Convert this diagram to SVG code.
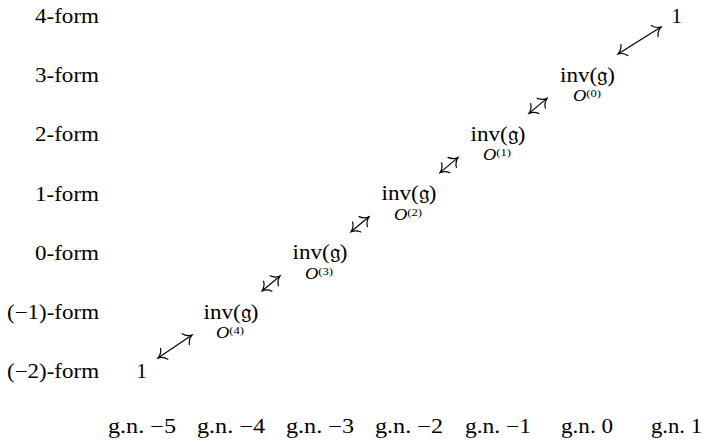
<svg xmlns="http://www.w3.org/2000/svg" width="708" height="447" viewBox="0 0 708 447">
<style>
text{font-family:"Liberation Serif",serif;fill:#000}
.lbl{font-size:20.5px}
.row{text-anchor:end}
.mid{text-anchor:middle}
.o{font-size:16px;font-style:italic}
.sup{font-size:11px;font-style:normal}
.arr{stroke:#000;stroke-width:1.2;fill:none;marker-start:url(#tip);marker-end:url(#tip)}
</style>
<defs>
<marker id="tip" markerUnits="userSpaceOnUse" markerWidth="20" markerHeight="20" viewBox="-10 -10 20 20" refX="0" refY="0" orient="auto-start-reverse" overflow="visible">
<path d="M-7.5,-6.5 C-5.8,-2.8 -2,-0.6 0,0 C-2,0.6 -5.8,2.8 -7.5,6.5" fill="none" stroke="#000" stroke-width="1.2" stroke-linecap="round"/>
</marker>
</defs>
<g id="row-labels">
<text class="lbl row" x="99" y="23" textLength="64" lengthAdjust="spacingAndGlyphs">4-form</text>
<text class="lbl row" x="99" y="82.2" textLength="64" lengthAdjust="spacingAndGlyphs">3-form</text>
<text class="lbl row" x="99" y="141.4" textLength="64" lengthAdjust="spacingAndGlyphs">2-form</text>
<text class="lbl row" x="99" y="200.6" textLength="64" lengthAdjust="spacingAndGlyphs">1-form</text>
<text class="lbl row" x="99" y="259.8" textLength="64" lengthAdjust="spacingAndGlyphs">0-form</text>
<text class="lbl row" x="99" y="319" textLength="92" lengthAdjust="spacingAndGlyphs">(−1)-form</text>
<text class="lbl row" x="99" y="378.2" textLength="92" lengthAdjust="spacingAndGlyphs">(−2)-form</text>
</g>
<g id="col-labels">
<text class="lbl mid" x="142" y="433" textLength="68" lengthAdjust="spacingAndGlyphs">g.n. −5</text>
<text class="lbl mid" x="231" y="433" textLength="68" lengthAdjust="spacingAndGlyphs">g.n. −4</text>
<text class="lbl mid" x="320" y="433" textLength="68" lengthAdjust="spacingAndGlyphs">g.n. −3</text>
<text class="lbl mid" x="409" y="433" textLength="68" lengthAdjust="spacingAndGlyphs">g.n. −2</text>
<text class="lbl mid" x="498" y="433" textLength="66" lengthAdjust="spacingAndGlyphs">g.n. −1</text>
<text class="lbl mid" x="587" y="433" textLength="52" lengthAdjust="spacingAndGlyphs">g.n. 0</text>
<text class="lbl mid" x="676.5" y="433" textLength="51" lengthAdjust="spacingAndGlyphs">g.n. 1</text>
</g>
<g id="node-one-bottom"><text class="lbl mid" x="141.5" y="378.2">1</text></g>
<g id="node-inv-4">
<text class="lbl mid" x="231" y="318.5" textLength="55" lengthAdjust="spacingAndGlyphs">inv(𝔤)</text>
<text class="o mid" x="230" y="338" textLength="28" lengthAdjust="spacingAndGlyphs">O<tspan class="sup" dy="-4">(4)</tspan></text>
</g>
<g id="node-inv-3">
<text class="lbl mid" x="320" y="259.3" textLength="55" lengthAdjust="spacingAndGlyphs">inv(𝔤)</text>
<text class="o mid" x="319" y="278.8" textLength="28" lengthAdjust="spacingAndGlyphs">O<tspan class="sup" dy="-4">(3)</tspan></text>
</g>
<g id="node-inv-2">
<text class="lbl mid" x="409" y="200.1" textLength="55" lengthAdjust="spacingAndGlyphs">inv(𝔤)</text>
<text class="o mid" x="408" y="219.6" textLength="28" lengthAdjust="spacingAndGlyphs">O<tspan class="sup" dy="-4">(2)</tspan></text>
</g>
<g id="node-inv-1">
<text class="lbl mid" x="498" y="140.9" textLength="55" lengthAdjust="spacingAndGlyphs">inv(𝔤)</text>
<text class="o mid" x="497" y="160.4" textLength="28" lengthAdjust="spacingAndGlyphs">O<tspan class="sup" dy="-4">(1)</tspan></text>
</g>
<g id="node-inv-0">
<text class="lbl mid" x="587.5" y="81.7" textLength="55" lengthAdjust="spacingAndGlyphs">inv(𝔤)</text>
<text class="o mid" x="587" y="101.2" textLength="28" lengthAdjust="spacingAndGlyphs">O<tspan class="sup" dy="-4">(0)</tspan></text>
</g>
<g id="node-one-top"><text class="lbl mid" x="676.5" y="23">1</text></g>
<g id="connectors">
<line class="arr" x1="158" y1="358" x2="192" y2="335"/>
<line class="arr" x1="262" y1="291" x2="280" y2="276"/>
<line class="arr" x1="351" y1="231.8" x2="369" y2="216.8"/>
<line class="arr" x1="440" y1="172.6" x2="458" y2="157.6"/>
<line class="arr" x1="529" y1="113.4" x2="547" y2="98.4"/>
<line class="arr" x1="618" y1="54" x2="661" y2="27"/>
</g>
</svg>
